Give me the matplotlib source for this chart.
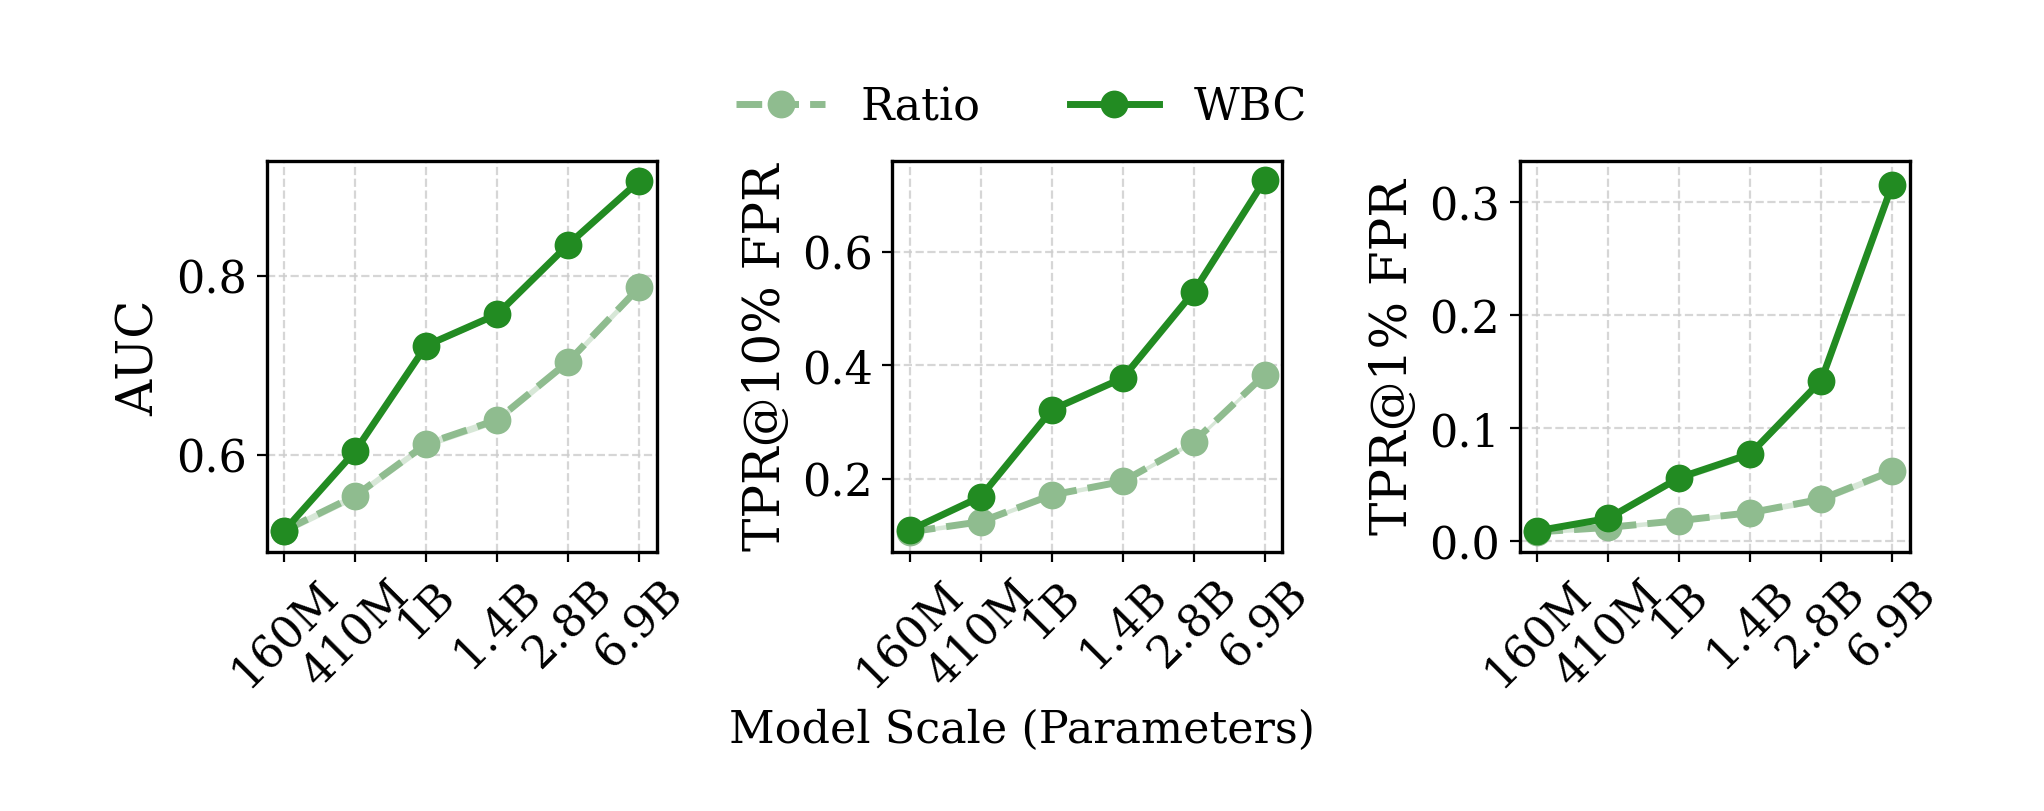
import numpy as np
import matplotlib
matplotlib.use('Agg')
import matplotlib.pyplot as plt

plt.rcParams['font.family'] = 'DejaVu Serif'
plt.rcParams['font.size'] = 16

model_sizes = ['160M', '410M', '1B', '1.4B', '2.8B', '6.9B']

# AUC
auc_ratio = [0.515, 0.554, 0.612, 0.639, 0.704, 0.787]
auc_wbc = [0.515, 0.604, 0.722, 0.757, 0.835, 0.906]

# TPR@10% FPR
tpr10_ratio = [0.106, 0.124, 0.171, 0.195, 0.265, 0.383]
tpr10_wbc = [0.109, 0.168, 0.321, 0.377, 0.529, 0.726]

# TPR@1% FPR
tpr1_ratio = [0.008, 0.012, 0.018, 0.025, 0.037, 0.062]
tpr1_wbc = [0.009, 0.020, 0.056, 0.077, 0.142, 0.315]

# rough std bands
auc_ratio_std = [0.004, 0.004, 0.004, 0.004, 0.004, 0.004]
auc_wbc_std = [0.003, 0.003, 0.003, 0.003, 0.003, 0.003]
tpr10_ratio_std = [0.004, 0.004, 0.004, 0.004, 0.004, 0.004]
tpr10_wbc_std = [0.003, 0.003, 0.003, 0.003, 0.003, 0.003]
tpr1_ratio_std = [0.002, 0.002, 0.002, 0.002, 0.003, 0.003]
tpr1_wbc_std = [0.002, 0.002, 0.003, 0.003, 0.004, 0.006]

ratio_color = '#8fbc8f'
wbc_color = '#228b22'

panels = [
    ('AUC', auc_ratio, auc_ratio_std, auc_wbc, auc_wbc_std),
    ('TPR@10% FPR', tpr10_ratio, tpr10_ratio_std, tpr10_wbc, tpr10_wbc_std),
    ('TPR@1% FPR', tpr1_ratio, tpr1_ratio_std, tpr1_wbc, tpr1_wbc_std),
]

fig = plt.figure(figsize=(10.22, 4.06), dpi=200)
lefts = [0.1304, 0.4364, 0.7434]
x = np.arange(len(model_sizes))

for left, (ylabel, r, rs, w, ws) in zip(lefts, panels):
    ax = fig.add_axes([left, 0.319, 0.191, 0.482])
    r = np.array(r)
    w = np.array(w)
    ax.fill_between(x, r - np.array(rs), r + np.array(rs), color=ratio_color, alpha=0.35, lw=0)
    ax.fill_between(x, w - np.array(ws), w + np.array(ws), color=wbc_color, alpha=0.25, lw=0)
    ax.plot(x, r, '--o', color=ratio_color, lw=2.5, markersize=9, label='Ratio')
    ax.plot(x, w, '-o', color=wbc_color, lw=2.5, markersize=9, label='WBC')
    ax.set_xticks(x)
    ax.set_xticklabels(model_sizes, rotation=45)
    ax.set_ylabel(ylabel, fontsize=18)
    ax.grid(True, linestyle='--', color='#cccccc', alpha=0.8)
    for s in ax.spines.values():
        s.set_linewidth(1.2)

handles, labels = ax.get_legend_handles_labels()
fig.legend(handles, labels, loc='center', bbox_to_anchor=(0.5, 0.867), ncol=2,
           frameon=False)
fig.text(0.5, 0.101, 'Model Scale (Parameters)', ha='center', va='center')

plt.savefig('out.png', dpi=200)
